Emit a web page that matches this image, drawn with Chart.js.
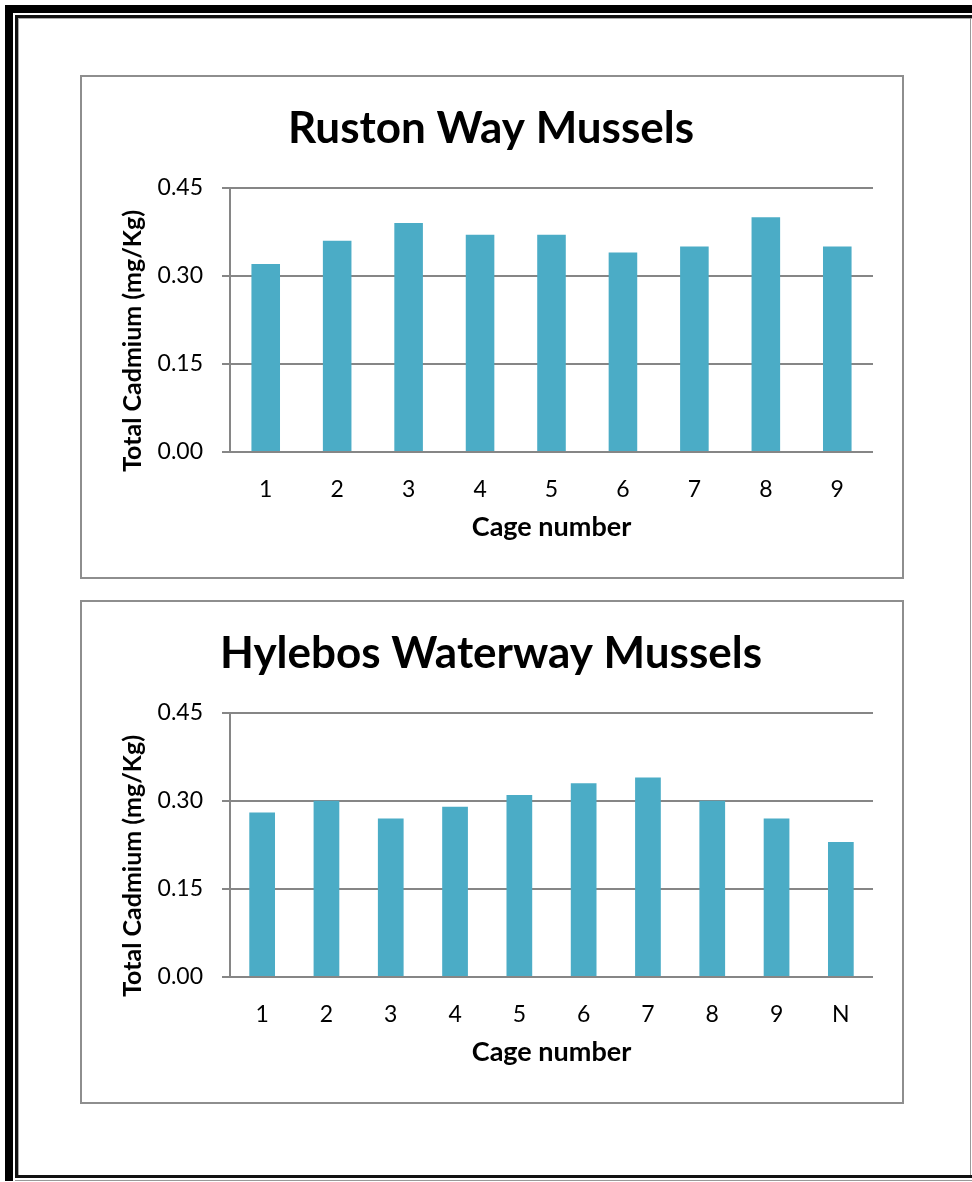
<!DOCTYPE html>
<html lang="en">

<head>
    <meta charset="utf-8" />
    <title>Total Cadmium in Mussels</title>
    <script src="https://cdn.jsdelivr.net/npm/chart.js@4.4.0/dist/chart.umd.min.js"></script>
    <style>
        html, body { margin: 0; padding: 0; background: #fff; }
        body { width: 972px; height: 1182px; position: relative; overflow: hidden; }
        .line { position: absolute; }
        .box {
            position: absolute;
            left: 80px;
            width: 820px;
            height: 500px;
            border: 2px solid #8e8e8e;
        }
        .box canvas { position: absolute; left: -2px; top: -2px; }
    </style>
</head>

<body>
    <!-- page border: thick-thin on left/top, thin on bottom, grey right -->
    <div class="line" style="left:5px;top:5px;width:967px;height:8px;background:#000"></div>
    <div class="line" style="left:5px;top:5px;width:8px;height:1176px;background:#000"></div>
    <div class="line" style="left:15px;top:15px;width:957px;height:3px;background:#111"></div>
    <div class="line" style="left:15px;top:15px;width:3px;height:1163px;background:#111"></div>
    <div class="line" style="left:15px;top:1175px;width:957px;height:3px;background:#111"></div>
    <div class="line" style="left:18px;top:18px;width:954px;height:1px;background:#aaa"></div>
    <div class="line" style="left:18px;top:18px;width:1px;height:1157px;background:#aaa"></div>
    <div class="line" style="left:15px;top:1180px;width:957px;height:1px;background:#999"></div>
    <div class="line" style="left:970px;top:18px;width:1px;height:1157px;background:#999"></div>

    <div class="box" style="top:75px"><canvas id="rustonChart" width="822" height="502"></canvas></div>
    <div class="box" style="top:600px"><canvas id="hylebosChart" width="822" height="502"></canvas></div>

    <script>
        // values (mg/Kg)
        const rustonCages = ["1", "2", "3", "4", "5", "6", "7", "8", "9"];
        const rustonCadmium = [0.32, 0.36, 0.39, 0.37, 0.37, 0.34, 0.35, 0.40, 0.35];

        const hylebosCages = ["1", "2", "3", "4", "5", "6", "7", "8", "9", "N"];
        const hylebosCadmium = [0.28, 0.30, 0.27, 0.29, 0.31, 0.33, 0.34, 0.30, 0.27, 0.23];

        const yTicks = [0, 0.15, 0.30, 0.45];
        const yTitle = "Total Cadmium (mg/Kg)";
        const xTitle = "Cage number";

        const barColor = "#4bacc6";
        const gridColor = "#868686";
        const fontFamily = "Lato, 'Open Sans', sans-serif";

        // y title drawn a bit below the plot centre, like the original
        const yTitlePlugin = {
            id: "yTitle",
            afterDraw(chart) {
                const ctx = chart.ctx;
                const area = chart.chartArea;
                ctx.save();
                ctx.translate(53, (area.top + area.bottom) / 2 + 21);
                ctx.rotate(-Math.PI / 2);
                ctx.font = "bold 25px " + fontFamily;
                ctx.fillStyle = "#000";
                ctx.textAlign = "center";
                ctx.textBaseline = "middle";
                ctx.fillText(yTitle, 0, 0);
                ctx.restore();
            }
        };

        let makeChart = (canvasId, title, labels, values) => {
            let ctx = document.getElementById(canvasId);
            return new Chart(ctx, {
                type: "bar",
                data: {
                    labels: labels,
                    datasets: [
                        {
                            label: title,
                            data: values,
                            backgroundColor: barColor,
                            borderWidth: 0,
                            categoryPercentage: 1,
                            barPercentage: 0.4,
                        },
                    ],
                },
                options: {
                    responsive: false,
                    animation: false,
                    layout: { padding: { left: 29, right: 29, top: 0, bottom: 0 } },
                    plugins: {
                        legend: { display: false },
                        tooltip: { enabled: false },
                        title: {
                            display: true,
                            text: title,
                            color: "#000",
                            font: { family: fontFamily, size: 44, weight: "bold", lineHeight: 1.2 },
                            padding: { top: 27, bottom: 33 },
                        },
                    },
                    scales: {
                        x: {
                            grid: { display: false, drawTicks: false },
                            border: { display: false },
                            ticks: {
                                color: "#000",
                                padding: 24,
                                font: { family: fontFamily, size: 23 },
                            },
                            title: {
                                display: true,
                                text: xTitle,
                                color: "#000",
                                font: { family: fontFamily, size: 27, weight: "bold", lineHeight: 1.2 },
                                padding: { top: 0, bottom: 34 },
                            },
                            afterFit: (scale) => { scale.height = 125; },
                        },
                        y: {
                            min: 0,
                            max: 0.45,
                            afterBuildTicks: (scale) => {
                                scale.ticks = yTicks.map((v) => ({ value: v }));
                            },
                            grid: { color: gridColor, lineWidth: 2, tickLength: 8 },
                            border: { color: gridColor, width: 2 },
                            ticks: {
                                color: "#000",
                                padding: 19,
                                font: { family: fontFamily, size: 23 },
                                callback: (v) => v.toFixed(2),
                            },
                            afterFit: (scale) => { scale.width = 121; },
                        },
                    },
                },
                plugins: [yTitlePlugin],
            });
        };

        makeChart("rustonChart", "Ruston Way Mussels", rustonCages, rustonCadmium);
        makeChart("hylebosChart", "Hylebos Waterway Mussels", hylebosCages, hylebosCadmium);
    </script>
</body>

</html>
